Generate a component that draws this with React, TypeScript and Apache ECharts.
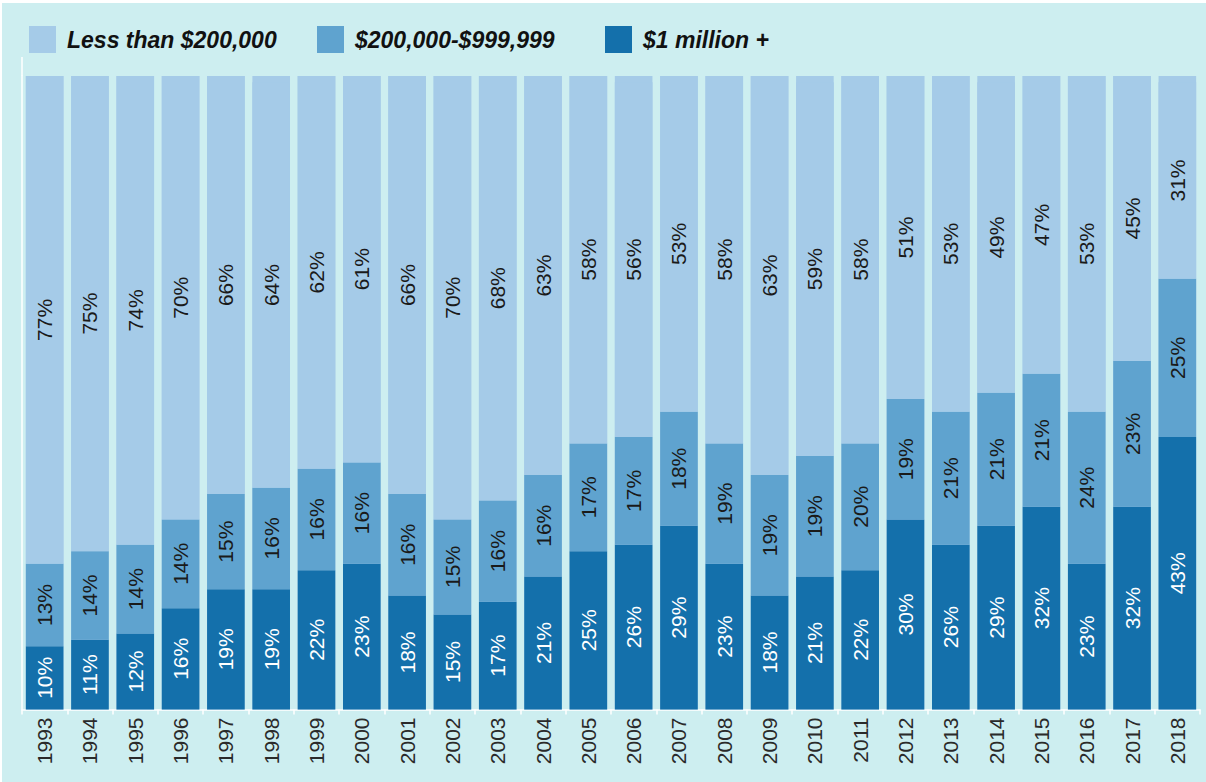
import React, { useEffect, useRef } from "react";
import * as echarts from "echarts";

const years = ["1993","1994","1995","1996","1997","1998","1999","2000","2001","2002","2003","2004","2005","2006","2007","2008","2009","2010","2011","2012","2013","2014","2015","2016","2017","2018"];
const millionPlus = [10,11,12,16,19,19,22,23,18,15,17,21,25,26,29,23,18,21,22,30,26,29,32,23,32,43];
const midRange = [13,14,14,14,15,16,16,16,16,15,16,16,17,17,18,19,19,19,20,19,21,21,21,24,23,25];
const lessThan = [77,75,74,70,66,64,62,61,66,70,68,63,58,56,53,58,63,59,58,51,53,49,47,53,45,31];
const seriesNames = ["Less than $200,000", "$200,000-$999,999", "$1 million +"];

const LIGHT = "#a5cbe8";
const MID = "#5fa3cf";
const DARK = "#1470ab";
const BG = "#cdeef0";
const FONT = "Arial, 'Liberation Sans', sans-serif";

export default function App() {
  const ref = useRef<HTMLDivElement>(null);
  useEffect(() => {
    if (!ref.current) return;
    const chart = echarts.init(ref.current, undefined, { renderer: "svg" });
    const legendText = {
      fontFamily: FONT,
      fontSize: 23,
      fontWeight: "bold",
      fontStyle: "italic",
      color: "#111",
      padding: [0, 0, 0, 6],
    };
    const legendBase = {
      top: 18,
      itemWidth: 27,
      itemHeight: 27,
      icon: "rect",
      selectedMode: false,
      textStyle: legendText,
    };
    const labelBase = {
      show: true,
      position: "inside",
      rotate: 90,
      fontFamily: FONT,
      fontSize: 21,
      formatter: "{c}%",
    };
    chart.setOption({
      animation: false,
      backgroundColor: BG,
      legend: [
        { ...legendBase, left: 22, data: [seriesNames[0]] },
        { ...legendBase, left: 310, data: [seriesNames[1]] },
        { ...legendBase, left: 598, data: [seriesNames[2]] },
      ],
      grid: { left: 20, right: 6, top: 73, bottom: 72.5 },
      xAxis: {
        type: "category",
        data: years,
        axisLine: { show: true, lineStyle: { color: "#ffffff", width: 1.5 } },
        axisTick: { show: true, length: 5, lineStyle: { color: "#ffffff", width: 1.5 } },
        axisLabel: {
          rotate: 90,
          margin: 8,
          fontFamily: FONT,
          fontSize: 21,
          color: "#2a2a2a",
        },
      },
      yAxis: {
        type: "value",
        min: 0,
        max: 100,
        axisLine: { show: true, lineStyle: { color: "#ffffff", width: 1.5 } },
        axisTick: { show: false },
        axisLabel: { show: false },
        splitLine: { show: false },
      },
      graphic: [
        {
          type: "line",
          shape: { x1: 20, y1: 54, x2: 20, y2: 73 },
          style: { stroke: "#ffffff", lineWidth: 1.5 },
        },
      ],
      series: [
        {
          name: seriesNames[2],
          type: "bar",
          stack: "total",
          barWidth: "83%",
          data: millionPlus,
          itemStyle: { color: DARK },
          showBackground: true,
          backgroundStyle: { color: LIGHT },
          label: { ...labelBase, color: "#ffffff" },
        },
        {
          name: seriesNames[1],
          type: "bar",
          stack: "total",
          data: midRange,
          itemStyle: { color: MID },
          label: { ...labelBase, color: "#1a1a1a" },
        },
        {
          name: seriesNames[0],
          type: "bar",
          stack: "total",
          data: lessThan,
          itemStyle: { color: LIGHT },
          label: { ...labelBase, color: "#1a1a1a" },
        },
      ],
    });
    return () => chart.dispose();
  }, []);
  return (
    <div style={{ position: "fixed", left: 0, top: 0, width: 1206, height: 782, background: "#ffffff" }}>
      <div ref={ref} style={{ position: "absolute", left: 2, top: 3, width: 1204, height: 779 }} />
    </div>
  );
}
